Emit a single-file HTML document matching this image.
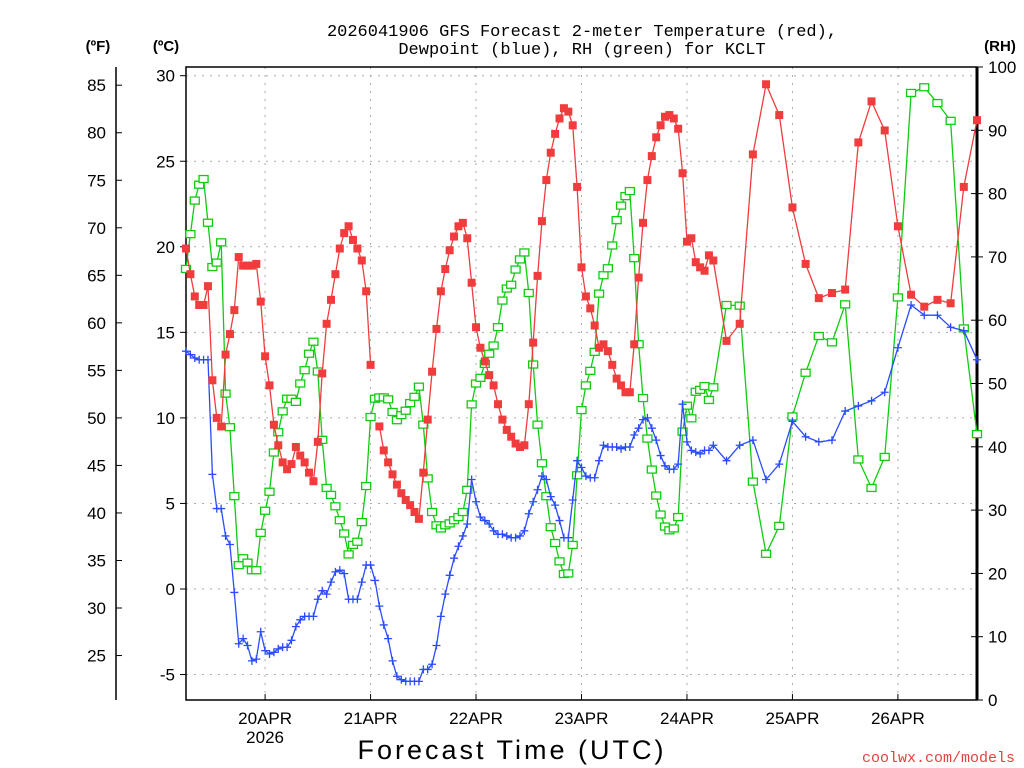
<!DOCTYPE html>
<html><head><meta charset="utf-8"><style>
html,body{margin:0;padding:0;background:#fff;width:1024px;height:768px;overflow:hidden}
svg{display:block}
.mono{font-family:"Liberation Mono","DejaVu Sans Mono",monospace}
.sans{font-family:"Liberation Sans","DejaVu Sans",sans-serif}
</style></head><body>
<svg id="chart" width="1024" height="768" viewBox="0 0 1024 768" xmlns="http://www.w3.org/2000/svg">
<g>
<text class="mono" x="582" y="36" font-size="17" text-anchor="middle" fill="#000">2026041906 GFS Forecast 2-meter Temperature (red),</text>
<text class="mono" x="582" y="54" font-size="17" text-anchor="middle" fill="#000">Dewpoint (blue), RH (green) for KCLT</text>
</g>
<text class="sans" x="98" y="51" font-size="15" font-weight="bold" text-anchor="middle">(ºF)</text>
<text class="sans" x="166" y="51" font-size="15" font-weight="bold" text-anchor="middle">(ºC)</text>
<text class="sans" x="1000" y="51" font-size="15" font-weight="bold" text-anchor="middle">(RH)</text>
<g id="grid"></g><g id="axes"></g><g id="series"></g>
<text class="sans" x="512" y="759" font-size="27" text-anchor="middle" letter-spacing="3">Forecast Time (UTC)</text>
<text class="mono" x="1015" y="762" font-size="15" text-anchor="end" fill="#e84040">coolwx.com/models</text>
</svg>
<script>
const hours=[0,1,2,3,4,5,6,7,8,9,10,11,12,13,14,15,16,17,18,19,20,21,22,23,24,25,26,27,28,29,30,31,32,33,34,35,36,37,38,39,40,41,42,43,44,45,46,47,48,49,50,51,52,53,54,55,56,57,58,59,60,61,62,63,64,65,66,67,68,69,70,71,72,73,74,75,76,77,78,79,80,81,82,83,84,85,86,87,88,89,90,91,92,93,94,95,96,97,98,99,100,101,102,103,104,105,106,107,108,109,110,111,112,113,114,115,116,117,118,119,120,123,126,129,132,135,138,141,144,147,150,153,156,159,162,165,168,171,174,177,180];
const tempC=[19.9,18.4,17.1,16.6,16.6,17.7,12.2,10.0,9.5,13.7,14.9,16.3,19.4,18.9,18.9,18.9,19.0,16.8,13.6,11.9,9.6,8.4,7.4,7.0,7.3,8.3,7.8,7.4,6.8,6.3,8.6,12.6,15.5,16.9,18.4,19.9,20.8,21.2,20.4,19.9,19.2,17.4,13.1,null,9.5,
8.1,7.4,6.7,6.1,5.6,5.2,4.9,4.5,4.1,6.8,9.9,12.7,15.2,17.4,18.7,19.8,20.6,21.2,21.4,20.5,17.9,15.3,14.1,13.3,12.5,11.9,10.8,9.9,9.3,8.9,8.5,8.3,8.4,10.8,14.4,18.3,21.5,23.9,25.5,26.6,27.5,28.1,27.9,27.1,23.5,18.8,17.1,16.4,
15.4,14.1,14.3,13.9,13.1,12.3,11.9,11.5,11.5,14.3,18.2,21.4,23.9,25.3,26.4,27.1,27.6,27.7,27.5,26.9,24.3,20.3,20.5,19.1,18.8,18.6,19.5,19.2,
14.5,15.5,25.4,29.5,27.7,22.3,19.0,17.0,17.3,17.5,26.1,28.5,26.8,21.2,17.2,16.5,16.9,16.7,23.5,27.4];
const dewC=[13.9,13.7,13.5,13.4,13.4,13.4,6.7,4.7,4.7,3.1,2.6,-0.2,-3.2,-2.9,-3.3,-4.2,-4.1,-2.5,-3.6,-3.8,-3.7,-3.5,-3.4,-3.4,-3.0,-2.2,-1.8,-1.6,-1.6,-1.6,-0.6,-0.1,-0.3,0.4,1.0,1.1,0.9,-0.6,-0.6,-0.6,0.4,1.4,1.4,0.5,-1.0,
-2.1,-2.9,-4.2,-5.1,-5.3,-5.4,-5.4,-5.4,-5.4,-4.7,-4.7,-4.4,-3.3,-1.6,-0.3,0.8,1.8,2.5,3.1,3.8,6.4,5.1,4.2,4.0,3.8,3.4,3.2,3.2,3.1,3.0,3.0,3.1,3.4,4.4,5.1,5.8,6.6,6.4,5.4,4.9,4.0,3.0,3.0,5.2,7.5,7.1,6.6,
6.5,6.5,7.5,8.4,8.3,8.3,8.3,8.2,8.3,8.3,9.0,9.4,9.9,10.0,9.4,8.7,7.8,7.2,7.0,7.0,7.3,10.8,8.6,8.1,8.0,7.9,8.1,8.1,8.4,
7.5,8.4,8.7,6.4,7.3,9.8,8.9,8.6,8.7,10.4,10.7,11.0,11.5,14.1,16.6,16.0,16.0,15.3,15.1,13.4];
const rh=[68.1,73.6,78.9,81.4,82.3,75.4,68.4,69.1,72.3,48.4,43.1,32.2,21.3,22.4,21.7,20.5,20.5,26.4,29.9,32.9,39.1,42.3,45.6,47.6,47.6,47.1,50.0,52.1,54.7,56.6,51.9,41.1,33.5,32.4,30.6,28.4,26.3,23.0,24.5,25.0,28.1,33.8,44.7,47.6,
47.8,47.8,47.5,45.5,44.2,45.0,45.7,46.9,47.9,49.5,43.5,35.0,29.7,27.6,27.1,27.6,27.9,28.4,28.9,29.7,33.2,46.7,50.0,50.9,53.1,54.7,56.0,58.9,63.1,65.0,65.6,68.0,69.6,70.7,64.3,53.0,43.5,37.4,32.2,27.3,24.8,21.9,19.9,20.0,24.5,35.5,45.8,49.7,52.0,
55.0,64.2,67.1,68.2,71.8,75.8,78.1,79.6,80.4,69.8,56.2,47.7,41.3,36.4,32.3,29.3,27.4,26.8,27.1,28.9,42.4,46.5,44.5,48.7,49.0,49.6,47.4,49.4,
62.4,62.3,34.5,23.1,27.5,44.8,51.7,57.5,56.5,62.5,38.0,33.5,38.4,63.6,95.9,96.8,94.3,91.5,58.7,42.0];
const cTicks=[30,25,20,15,10,5,0,-5];
const fTicks=[85,80,75,70,65,60,55,50,45,40,35,30,25];
const rhTicks=[100,90,80,70,60,50,40,30,20,10,0];
const dayLabels=["20APR","21APR","22APR","23APR","24APR","25APR","26APR"];
const dayHours=[18,42,66,90,114,138,162];

const NS="http://www.w3.org/2000/svg";
const L=186,R=977,T=67,B=700;
function xOf(h){return L+h*(R-L)/180;}
function yC(c){return 589-c*17.11;}
function yF(f){return yC((f-32)/1.8);}
function yRH(r){return B-r*(B-T)/100;}
function mk(tag,attrs,parent){const e=document.createElementNS(NS,tag);for(const k in attrs)e.setAttribute(k,attrs[k]);parent.appendChild(e);return e;}
const grid=document.getElementById('grid'),axes=document.getElementById('axes'),ser=document.getElementById('series');

cTicks.forEach(c=>{
  const g=mk('line',{x1:L,x2:R,y1:yC(c),y2:yC(c),stroke:'#aaa','stroke-width':1,'stroke-dasharray':'2,6'},grid);
  
  
  const t=mk('line',{x1:L-6,x2:L,y1:yC(c),y2:yC(c),stroke:'#000','stroke-width':1},axes);
  
  
  const lb=mk('text',{x:175,y:yC(c)+6,'font-size':17,'text-anchor':'end',class:'sans'},axes);
  lb.textContent=c;
  
  
});
dayHours.forEach((h,i)=>{
  const g=mk('line',{x1:xOf(h),x2:xOf(h),y1:T,y2:B,stroke:'#aaa','stroke-width':1,'stroke-dasharray':'2,6'},grid);
  
  
  const t=mk('line',{x1:xOf(h),x2:xOf(h),y1:B-6,y2:B,stroke:'#000','stroke-width':1},axes);
  
  
  const lb=mk('text',{x:xOf(h),y:724,'font-size':17,'text-anchor':'middle',class:'sans'},axes);
  lb.textContent=dayLabels[i];
  
  
});
const yr=mk('text',{x:xOf(dayHours[0]),y:743,'font-size':17,'text-anchor':'middle',class:'sans'},axes);
yr.textContent='2026';



const fl=mk('line',{x1:116,x2:116,y1:T,y2:B,stroke:'#000','stroke-width':1.5},axes);


fTicks.forEach(f=>{
  const t=mk('line',{x1:116,x2:122,y1:yF(f),y2:yF(f),stroke:'#000','stroke-width':1},axes);
  
  
  const lb=mk('text',{x:106,y:yF(f)+6,'font-size':17,'text-anchor':'end',class:'sans'},axes);
  lb.textContent=f;
  
  
});
rhTicks.forEach(r=>{
  const t=mk('line',{x1:R-6,x2:R+6,y1:yRH(r),y2:yRH(r),stroke:'#000','stroke-width':1},axes);
  
  
  const lb=mk('text',{x:988,y:yRH(r)+6,'font-size':17,'text-anchor':'start',class:'sans'},axes);
  lb.textContent=r;
  
  
});
const frame=mk('rect',{x:L,y:T,width:R-L,height:B-T,fill:'none',stroke:'#000','stroke-width':1.5},axes);


const ra=mk('line',{x1:R,x2:R,y1:T,y2:B,stroke:'#000','stroke-width':3},axes);



function drawSeries(vals,yf,color,name,marker){
  const g=mk('g',{},ser);
  
  
  let d='',pen=false;
  vals.forEach((v,i)=>{ if(v===null){pen=false;return;} d+=(pen?'L':'M')+xOf(hours[i]).toFixed(1)+','+yf(v).toFixed(1);pen=true;});
  const p=mk('path',{d:d,fill:'none',stroke:color,'stroke-width':1.3},g);
  
  
  vals.forEach((v,i)=>{
    if(v===null)return;
    const x=xOf(hours[i]),y=yf(v);let m;
    if(marker==='fill'){m=mk('rect',{x:x-4,y:y-4,width:8,height:8,fill:color},g);}
    else if(marker==='hollow'){m=mk('rect',{x:x-4.5,y:y-3.5,width:9,height:7,fill:'#fff',stroke:color,'stroke-width':1.3},g);}
    else {m=mk('path',{d:`M${x-4},${y}H${x+4}M${x},${y-4}V${y+4}`,stroke:color,'stroke-width':1.3},g);}
    
    
  });
}
drawSeries(rh,yRH,'#10cc10','rh','hollow');
drawSeries(dewC,yC,'#2a4cff','dewpoint','plus');
drawSeries(tempC,yC,'#f03c3c','temperature','fill');
</script>
</body></html>
